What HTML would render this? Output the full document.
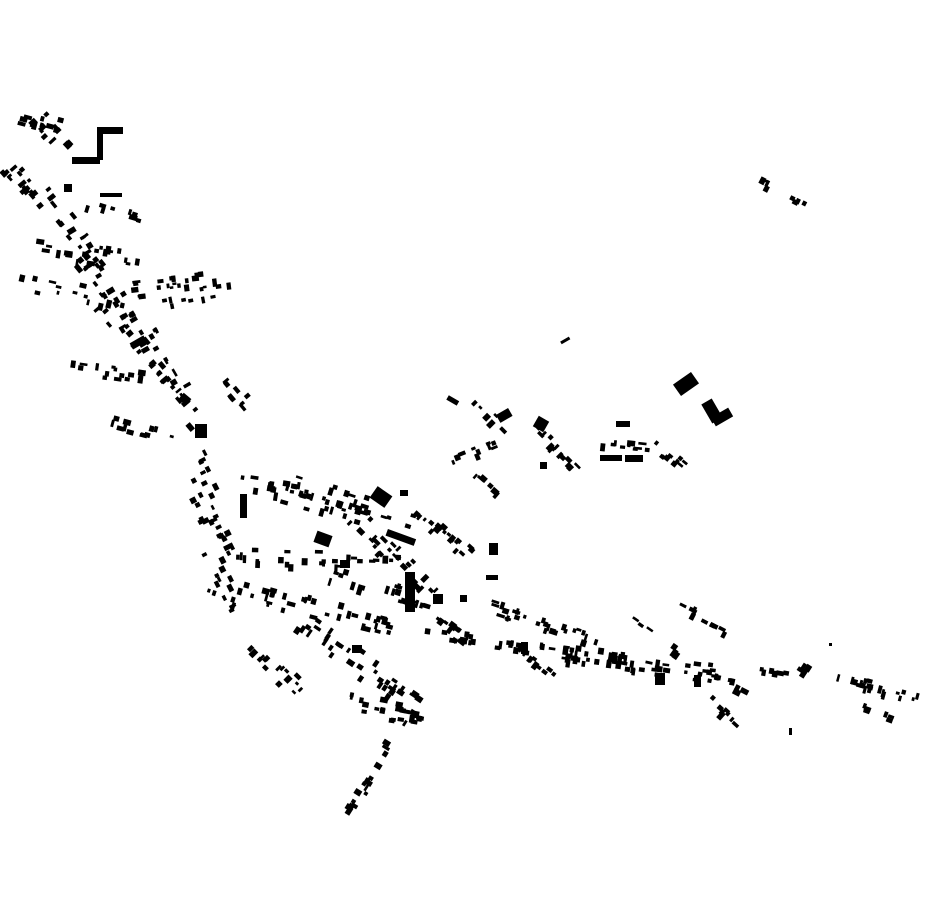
<!DOCTYPE html>
<html><head><meta charset="utf-8"><style>
html,body{margin:0;padding:0;background:#fff;width:930px;height:924px;overflow:hidden}
svg{display:block}
</style></head><body>
<svg id="m" width="930" height="924" viewBox="0 0 930 924" xmlns="http://www.w3.org/2000/svg">
<g fill="#000">
<rect x="97" y="127" width="26" height="7"/>
<rect x="97" y="127" width="6" height="33"/>
<rect x="72" y="157" width="28" height="7"/>
<rect x="100" y="193" width="22" height="4"/>
<rect x="195" y="424" width="12" height="14"/>
<rect x="240" y="494" width="7" height="24"/>
<rect x="372" y="490" width="18" height="14" transform="rotate(35 381 497)"/>
<rect x="400" y="490" width="8" height="6"/>
<rect x="315" y="533" width="16" height="12" transform="rotate(20 323 539)"/>
<rect x="405" y="572" width="10" height="40"/>
<rect x="386" y="534" width="30" height="7" transform="rotate(20 401 537)"/>
<rect x="489" y="543" width="9" height="12"/>
<rect x="486" y="575" width="12" height="5"/>
<rect x="433" y="594" width="10" height="10"/>
<rect x="675" y="377" width="22" height="14" transform="rotate(-35 686 384)"/>
<rect x="706" y="400" width="12" height="22" transform="rotate(-30 712 411)"/>
<rect x="712" y="412" width="20" height="10" transform="rotate(-30 722 417)"/>
<rect x="535" y="418" width="12" height="12" transform="rotate(30 541 424)"/>
<rect x="497" y="411" width="14" height="9" transform="rotate(-30 504 415)"/>
<rect x="447" y="398" width="12" height="5" transform="rotate(30 453 400)"/>
<rect x="560" y="339" width="10" height="3" transform="rotate(-30 565 340)"/>
<rect x="616" y="421" width="14" height="6"/>
<rect x="600" y="455" width="22" height="6"/>
<rect x="625" y="455" width="18" height="7"/>
<rect x="130" y="339" width="16" height="7" transform="rotate(-30 138 342)"/>
<rect x="180" y="395" width="10" height="8" transform="rotate(40 185 399)"/>
<rect x="64" y="184" width="8" height="8"/>
<rect x="655" y="673" width="10" height="12"/>
<rect x="694" y="675" width="7" height="12"/>
<rect x="521" y="642" width="7" height="12"/>
<rect x="789" y="728" width="3" height="7"/>
<rect x="829" y="643" width="3" height="3"/>
<rect x="340" y="560" width="10" height="8"/>
<rect x="352" y="645" width="10" height="8"/>
<rect x="460" y="595" width="7" height="7"/>
<rect x="540" y="462" width="7" height="7"/>
</g>
<g id="gen" fill="#000"></g>
</svg>
<script>
(function(){
var s=12345;function r(){s=(s*1103515245+12345)%2147483648;return s/2147483648;}
var g=document.getElementById('gen');var out='';
var C=[
[5,110,60,125,10,8],[40,118,70,150,10,8],[5,160,40,200,14,8],
[20,240,140,260,18,10],[30,280,120,300,14,8],[90,200,140,215,8,6],
[30,180,110,280,20,12],[80,230,140,330,20,10],[120,290,235,275,22,8],
[160,300,210,290,8,6],[70,365,140,375,14,6],[100,300,200,420,26,10],
[115,420,170,435,12,6],[225,375,250,405,8,6],[150,330,190,400,12,8],
[195,440,215,480,6,4],[195,480,230,550,22,10],[215,560,240,610,10,8],
[210,590,240,600,4,4],[240,480,300,490,14,8],[280,490,365,515,18,8],
[240,555,400,560,26,8],[250,590,400,630,36,10],[260,650,300,690,16,8],
[300,620,420,700,36,10],[320,690,420,710,14,6],[360,710,420,720,8,4],
[415,710,350,815,18,4],[420,630,720,670,50,6],[430,610,470,640,10,8],
[490,605,600,640,26,6],[520,650,560,680,10,6],[560,655,700,675,20,4],
[600,650,740,680,12,6],[630,615,680,650,6,6],[680,605,730,630,10,5],
[710,695,740,722,8,3],[735,685,745,690,3,3],[750,665,790,672,6,3],
[800,665,820,678,5,4],[840,675,925,698,20,4],[860,705,895,718,6,4],
[455,460,505,440,10,6],[475,470,500,492,6,4],[480,400,505,425,6,6],
[540,430,575,465,14,6],[595,440,645,445,10,4],[660,445,685,465,10,5],
[765,180,800,198,8,4],[420,510,470,555,18,8],[360,520,440,600,26,10],
[300,480,420,520,16,8],[330,570,430,600,20,8]
];
C.forEach(function(c){
var dx=c[2]-c[0],dy=c[3]-c[1],a=Math.atan2(dy,dx)*180/Math.PI;
for(var i=0;i<c[4];i++){
var t=r();var x=c[0]+dx*t+(r()-0.5)*2*c[5];var y=c[1]+dy*t+(r()-0.5)*2*c[5];
var w=(3.5+r()*5).toFixed(1),h=(2.5+r()*3.5).toFixed(1);
var ang=(r()<0.5?a:a+90).toFixed(0);
out+='<rect x="'+x.toFixed(1)+'" y="'+y.toFixed(1)+'" width="'+w+'" height="'+h+'" transform="rotate('+ang+' '+x.toFixed(1)+' '+y.toFixed(1)+')"/>';
}});
g.innerHTML=out;
})();
</script>
</body></html>
